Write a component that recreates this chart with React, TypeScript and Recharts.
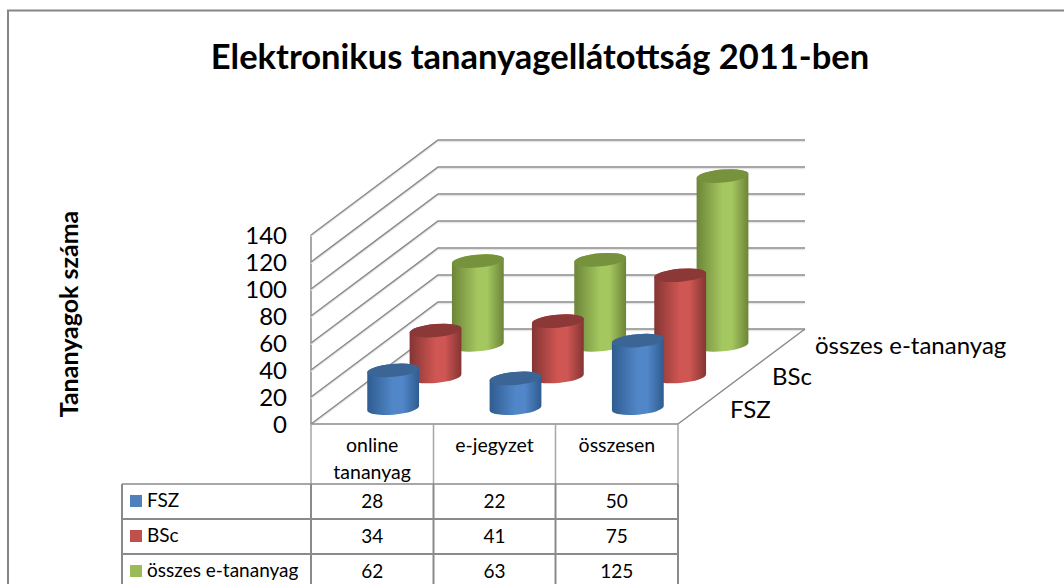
import React from "react";
import { ComposedChart, Bar, XAxis, YAxis, CartesianGrid } from "recharts";

const categories = ["online tananyag", "e-jegyzet", "összesen"];
const fsz = [28, 22, 50];
const bsc = [34, 41, 75];
const osszes = [62, 63, 125];
const seriesNames = ["FSZ", "BSc", "összes e-tananyag"];
const yTicks = [0, 20, 40, 60, 80, 100, 120, 140];
const title = "Elektronikus tananyagellátottság 2011-ben";
const yTitle = "Tananyagok száma";

const rows = categories.map((c, i) => ({ c, fsz: fsz[i], bsc: bsc[i], osszes: osszes[i] }));

const FONT = "Lato, Carlito, sans-serif";
const DX = 127, DY = 95;
const GRID = "#8a8a8a";
const PALETTE = [
  { id: "g0", edge: "#2f5c90", mid: "#5187c8", top: "#3a6595", fill: "#4f81bd" },
  { id: "g1", edge: "#843533", mid: "#cf5653", top: "#8c3836", fill: "#c0504d" },
  { id: "g2", edge: "#6c8538", mid: "#a5c75f", top: "#76923c", fill: "#9bbb59" },
];

function cylinder(depthIndex: number) {
  const pal = PALETTE[depthIndex];
  const ox = (DX * (depthIndex + 0.5)) / 3;
  const oy = (DY * (depthIndex + 0.5)) / 3;
  return (p: any) => {
    const rx = p.width / 2, ry = 6.5, deg = -5;
    const cx = p.x + p.width / 2 + ox;
    const top = p.y - oy, bot = p.y + p.height - oy;
    const a = (deg * Math.PI) / 180;
    const ex = rx * Math.cos(a), ey = rx * Math.sin(a);
    const d = `M${cx - ex} ${top - ey} L${cx - ex} ${bot - ey} A${rx} ${ry} ${deg} 0 0 ${cx + ex} ${bot + ey} L${cx + ex} ${top + ey} A${rx} ${ry} ${deg} 0 0 ${cx - ex} ${top - ey}Z`;
    return (
      <g>
        <defs>
          <linearGradient id={pal.id} x1="0" x2="1" y1="0" y2="0">
            <stop offset="0" stopColor={pal.edge} />
            <stop offset="0.5" stopColor={pal.mid} />
            <stop offset="0.68" stopColor={pal.mid} />
            <stop offset="1" stopColor={pal.edge} />
          </linearGradient>
        </defs>
        <path d={d} fill={`url(#${pal.id})`} />
        <ellipse cx={cx} cy={top} rx={rx} ry={ry} fill={pal.top} transform={`rotate(${deg} ${cx} ${top})`} />
      </g>
    );
  };
}

function gridLine(p: any) {
  const { x1, x2, y1, index } = p;
  const isFloor = Math.abs(y1 - 424) < 1;
  return (
    <g key={`h${index}`} fill="none" stroke={GRID} strokeWidth={1.5}>
      <polyline points={`${x1},${y1} ${x1 + DX},${y1 - DY} ${x2 + DX},${y1 - DY}`} stroke="#e6e6e6" strokeWidth={1.5} transform="translate(0,1.5)" />
      <polyline points={`${x1},${y1} ${x1 + DX},${y1 - DY} ${x2 + DX},${y1 - DY}`} />
      {isFloor && (
        <>
          <line x1={x1} y1={y1} x2={x2} y2={y1} />
          <line x1={x2} y1={y1} x2={x2 + DX} y2={y1 - DY} />
          <line x1={x1} y1={y1} x2={x1} y2={235} />
        </>
      )}
    </g>
  );
}

function CategoryTick(p: any) {
  const words = p.payload.value === "online tananyag" ? ["online", "tananyag"] : [p.payload.value];
  return (
    <g>
      {words.map((w: string, i: number) => (
        <text key={w} x={p.x} y={452 + i * 27} textAnchor="middle" fontFamily={FONT} fontSize={19.5} fill="#000">{w}</text>
      ))}
    </g>
  );
}

const tableX = [122, 311, 433.5, 555.5, 678];
const rowY = [484, 519, 554, 589];
const valueRows = [fsz, bsc, osszes];

function Overlay() {
  return (
    <svg width={1064} height={584} style={{ position: "absolute", left: 0, top: 0, pointerEvents: "none" }}>
      <line x1={8} y1={10} x2={8} y2={584} stroke="#868686" strokeWidth={2} />
      <line x1={7} y1={10.5} x2={1064} y2={10.5} stroke="#868686" strokeWidth={2} />
      <text x={540} y={69} textAnchor="middle" fontFamily={FONT} fontWeight={700} fontSize={34.5} fill="#000">{title}</text>
      <text transform="translate(78,314) rotate(-90)" textAnchor="middle" fontFamily={FONT} fontWeight={700} fontSize={25} fill="#000">{yTitle}</text>
      <text x={730} y={418} fontFamily={FONT} fontSize={24} fill="#000">{seriesNames[0]}</text>
      <text x={772} y={385} fontFamily={FONT} fontSize={24} fill="#000">{seriesNames[1]}</text>
      <text x={815} y={354} fontFamily={FONT} fontSize={24} fill="#000">{seriesNames[2]}</text>
      {tableX.slice(1).map((x) => (
        <line key={x} x1={x} y1={424} x2={x} y2={484} stroke="#a6a6a6" strokeWidth={1.5} />
      ))}
      {tableX.map((x) => (
        <line key={x} x1={x} y1={484} x2={x} y2={584} stroke={GRID} strokeWidth={2} />
      ))}
      {rowY.map((y, i) => (
        <line key={y} x1={122} y1={y} x2={678} y2={y} stroke={GRID} strokeWidth={i === 0 ? 1.5 : 2} />
      ))}
      {seriesNames.map((s, i) => (
        <g key={s}>
          <rect x={130} y={495 + i * 35} width={12} height={12} fill={PALETTE[i].fill} />
          <text x={147} y={507 + i * 35} fontFamily={FONT} fontSize={19} fill="#000">{s}</text>
          {valueRows[i].map((v, j) => (
            <text key={j} x={(tableX[j + 1] + tableX[j + 2]) / 2} y={508 + i * 35} textAnchor="middle" fontFamily={FONT} fontSize={19} fill="#000">{v}</text>
          ))}
        </g>
      ))}
    </svg>
  );
}

export default function App() {
  return (
    <div style={{ position: "absolute", left: 0, top: 0, width: 1064, height: 584, background: "#fff", overflow: "hidden" }}>
      <ComposedChart width={1064} height={584} data={rows} margin={{ top: 235, right: 386, bottom: 0, left: 231 }} barGap={-52} barSize={52}>
        <CartesianGrid horizontal={gridLine as any} vertical={false} />
        <XAxis dataKey="c" height={160} axisLine={false} tickLine={false} tick={CategoryTick as any} interval={0} />
        <YAxis width={80} domain={[0, 140]} ticks={yTicks} axisLine={false} tickLine={false} tickMargin={18} interval={0} tick={{ fontFamily: FONT, fontSize: 24, fill: "#000" }} />
        <Bar dataKey="osszes" isAnimationActive={false} fill={PALETTE[2].fill} shape={cylinder(2) as any} />
        <Bar dataKey="bsc" isAnimationActive={false} fill={PALETTE[1].fill} shape={cylinder(1) as any} />
        <Bar dataKey="fsz" isAnimationActive={false} fill={PALETTE[0].fill} shape={cylinder(0) as any} />
      </ComposedChart>
      <Overlay />
    </div>
  );
}
